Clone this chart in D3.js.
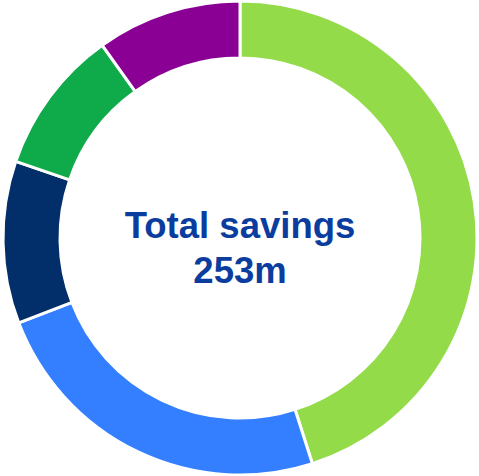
<!DOCTYPE html>
<html>
<head>
<meta charset="utf-8">
<script src="https://cdn.jsdelivr.net/npm/d3@7"></script>
<style>
  body { margin: 0; background: #fff; }
  svg { display: block; }
</style>
</head>
<body>
<svg width="479" height="476"></svg>
<script>
var categories = ["A", "B", "C", "D", "E"];
var values = [114, 61, 28, 25, 25];
var colors = ["#94db4a", "#337fff", "#022e69", "#0faa4a", "#8b0094"];
var titleLines = ["Total savings", "253m"];

var svg = d3.select("svg");
var cx = 240, cy = 238;
var outerR = 237, innerR = 180;

var data = categories.map(function (c, i) {
    return { name: c, value: values[i], color: colors[i] };
});

var pie = d3.pie()
    .sort(null)
    .value(function (d) { return d.value; });

var arc = d3.arc()
    .innerRadius(innerR)
    .outerRadius(outerR);

var g = svg.append("g")
    .attr("transform", "translate(" + cx + "," + cy + ")");

g.selectAll("path")
    .data(pie(data))
    .enter()
    .append("path")
    .attr("d", arc)
    .attr("fill", function (d) { return d.data.color; })
    .attr("stroke", "#fff")
    .attr("stroke-width", 3);

g.selectAll("text")
    .data(titleLines)
    .enter()
    .append("text")
    .text(function (d) { return d; })
    .attr("x", 0)
    .attr("y", function (d, i) { return i * 45; })
    .attr("text-anchor", "middle")
    .attr("font-family", "Liberation Sans, Arial, sans-serif")
    .attr("font-weight", "bold")
    .attr("font-size", 36.5)
    .attr("fill", "#0a3d9e");
</script>
</body>
</html>
